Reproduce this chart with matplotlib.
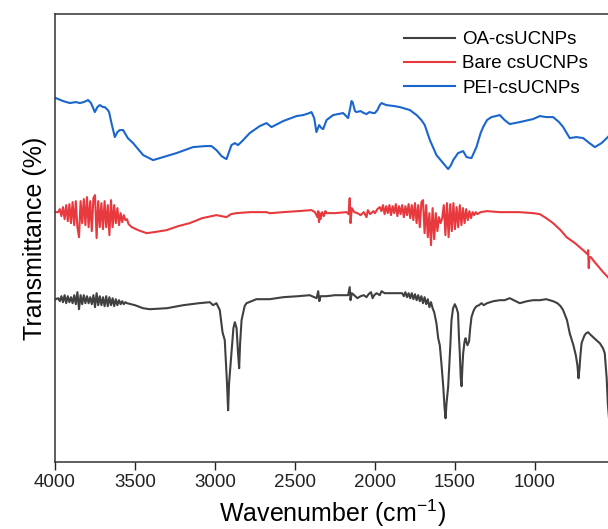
import numpy as np
import matplotlib
matplotlib.use("Agg")
import matplotlib.pyplot as plt

plt.rcParams["font.family"] = ["Liberation Sans", "DejaVu Sans"]
plt.rcParams["mathtext.default"] = "regular"

# ---- data (wavenumber, offset transmittance a.u.) ----
LABELS = ["OA-csUCNPs", "Bare csUCNPs", "PEI-csUCNPs"]
COLORS = ["#404040", "#e8393e", "#1a66cc"]

oa_wn = [3995, 3980, 3970, 3960, 3950, 3940, 3930, 3920, 3910, 3900, 3890,
         3880, 3870, 3860, 3850, 3840, 3830, 3820, 3810, 3800, 3790, 3780,
         3770, 3760, 3750, 3740, 3730, 3720, 3710, 3700, 3690, 3680, 3670,
         3660, 3650, 3640, 3630, 3620, 3610, 3600, 3590, 3580, 3570, 3560,
         3550, 3500, 3450, 3408, 3300, 3199, 3100, 3032, 3012, 2991, 2970,
         2953, 2939, 2925, 2918, 2912, 2897, 2885, 2876, 2865, 2856, 2849,
         2843, 2834, 2815, 2803, 2741, 2658, 2574, 2480, 2408, 2380, 2365,
         2355, 2348, 2340, 2320, 2303, 2250, 2168, 2158, 2153, 2145, 2130,
         2110, 2090, 2070, 2053, 2040, 2025, 2015, 2005, 1990, 1970, 1959,
         1940, 1900, 1845, 1830, 1820, 1810, 1800, 1790, 1780, 1770, 1760,
         1750, 1740, 1730, 1720, 1710, 1700, 1690, 1680, 1670, 1660, 1650,
         1640, 1630, 1616, 1605, 1595, 1585, 1574, 1565, 1559, 1553, 1543,
         1530, 1522, 1512, 1501, 1490, 1481, 1475, 1470, 1464, 1459, 1454,
         1449, 1440, 1434, 1428, 1422, 1417, 1412, 1405, 1397, 1385, 1376,
         1365, 1350, 1334, 1320, 1300, 1260, 1220, 1190, 1158, 1120, 1095,
         1050, 1012, 970, 930, 887, 860, 840, 824, 800, 783, 760, 745, 735,
         728, 722, 716, 709, 700, 690, 680, 668, 650, 630, 616, 595, 575,
         564, 552, 545, 535]
oa_t = [164, 165, 162, 167, 161, 168, 160, 167, 161, 166, 160,
        168, 159, 171, 154, 168, 159, 168, 160, 167, 160, 166,
        159, 168, 156, 170, 158, 167, 158, 166, 157, 167, 157,
        166, 158, 165, 157, 164, 158, 163, 159, 162, 159, 161,
        160, 158, 155, 154, 155, 158, 160, 161, 158, 160, 153,
        131, 123, 80, 53, 80, 110, 135, 141, 135, 110, 95,
        120, 143, 157, 160, 164, 164, 166, 167, 168, 166, 165,
        172, 162, 167, 167, 167, 168, 168, 176, 163, 170, 168,
        165, 167, 168, 166, 169, 171, 165, 168, 170, 168, 172,
        170, 170, 170, 170, 167, 171, 166, 170, 165, 170, 164,
        169, 163, 168, 162, 167, 160, 166, 159, 164, 156, 161,
        155, 151, 140, 125, 118, 100, 78, 55, 45, 60, 76,
        115, 143, 155, 159, 155, 150, 125, 110, 85, 77, 95,
        110, 122, 125, 121, 118, 120, 122, 135, 146, 152, 155,
        157, 158, 160, 158, 160, 162, 163, 163, 165, 162, 160,
        162, 163, 163, 164, 162, 160, 157, 153, 143, 130, 118, 108, 98,
        85, 95, 108, 120, 124, 128, 130, 131, 128, 125, 123, 120, 115,
        110, 85, 60, 40]

bare_wn = [3995, 3980, 3970, 3960, 3950, 3940, 3930, 3920, 3910, 3900, 3890,
           3880, 3870, 3860, 3850, 3840, 3830, 3820, 3810, 3800, 3790, 3780,
           3770, 3760, 3750, 3740, 3730, 3720, 3710, 3700, 3690, 3680, 3670,
           3660, 3650, 3640, 3630, 3620, 3610, 3600, 3590, 3580, 3570, 3560,
           3550, 3540, 3520, 3480, 3428, 3380, 3303, 3230, 3158, 3080, 2991,
           2960, 2928, 2900, 2866, 2780, 2678, 2660, 2647, 2574, 2480, 2397,
           2375, 2360, 2355, 2350, 2345, 2340, 2330, 2320, 2310, 2303, 2250,
           2178, 2165, 2158, 2153, 2145, 2130, 2110, 2090, 2070, 2053, 2045,
           2030, 2010, 2000, 1985, 1970, 1960, 1950, 1940, 1930, 1920, 1910,
           1900, 1890, 1880, 1870, 1860, 1850, 1840, 1830, 1820, 1810, 1800,
           1790, 1780, 1770, 1760, 1750, 1740, 1730, 1720, 1710, 1700, 1690,
           1680, 1670, 1660, 1650, 1640, 1630, 1620, 1610, 1600, 1590, 1580,
           1570, 1560, 1550, 1540, 1530, 1520, 1510, 1500, 1490, 1480, 1470,
           1460, 1450, 1440, 1430, 1420, 1410, 1400, 1390, 1380, 1370, 1360,
           1350, 1340, 1300, 1220, 1100, 1012, 970, 930, 887, 840, 803, 750,
           699, 672, 668, 664, 660, 650, 637, 600, 574, 545, 520]
bare_t = [251, 251, 254, 247, 256, 244, 258, 242, 259, 240, 261,
          238, 262, 236, 226, 262, 240, 264, 238, 266, 236, 262,
          232, 265, 268, 225, 262, 236, 260, 234, 262, 236, 258,
          228, 263, 236, 258, 240, 255, 238, 250, 241, 248, 243,
          244, 239, 236, 233, 230, 231, 233, 237, 240, 245, 248,
          247, 246, 249, 250, 251, 251, 250, 250, 251, 252, 253,
          251, 246, 252, 241, 250, 244, 251, 247, 252, 250, 250,
          251, 249, 265, 240, 255, 251, 250, 248, 251, 246, 253,
          249, 252, 250, 254, 256, 252, 258, 249, 257, 250, 258,
          248, 257, 250, 259, 247, 257, 249, 258, 246, 257, 248,
          259, 245, 258, 243, 260, 240, 258, 236, 261, 263, 230,
          258, 226, 250, 218, 255, 224, 250, 232, 246, 240, 245,
          258, 228, 260, 226, 259, 232, 260, 234, 256, 236, 258,
          238, 255, 240, 254, 243, 252, 245, 251, 248, 251, 249,
          250, 251, 252, 251, 251, 250, 249, 245, 240, 233, 226, 220,
          213, 209, 213, 195, 206, 206, 203, 196, 191, 186, 182]

pei_wn = [3995, 3950, 3907, 3870, 3845, 3820, 3793, 3775, 3751, 3735, 3720,
          3700, 3689, 3670, 3662, 3647, 3626, 3610, 3595, 3574, 3545, 3512,
          3449, 3387, 3324, 3241, 3137, 3060, 3022, 2991, 2959, 2940, 2928,
          2915, 2897, 2876, 2856, 2830, 2783, 2720, 2678, 2647, 2574, 2491,
          2449, 2410, 2397, 2380, 2366, 2349, 2335, 2324, 2303, 2262, 2199,
          2168, 2155, 2147, 2140, 2125, 2116, 2090, 2070, 2053, 2035, 2010,
          2001, 1985, 1970, 1959, 1930, 1880, 1845, 1782, 1740, 1710, 1689,
          1657, 1616, 1574, 1543, 1525, 1511, 1481, 1449, 1428, 1397, 1366,
          1340, 1324, 1300, 1272, 1245, 1220, 1190, 1158, 1095, 1012, 970,
          930, 887, 850, 824, 783, 741, 699, 660, 626, 584, 545, 520]
pei_t = [365, 362, 360, 361, 360, 361, 363, 360, 351, 356, 358,
         356, 356, 353, 351, 340, 326, 331, 333, 333, 325, 320,
         308, 303, 306, 310, 316, 317, 317, 313, 307, 305, 304,
         310, 318, 320, 318, 322, 330, 337, 340, 336, 342, 347,
         348, 350, 351, 345, 331, 338, 335, 334, 343, 348, 350,
         345, 355, 362, 361, 352, 351, 352, 350, 349, 351, 350,
         350, 353, 358, 360, 358, 357, 356, 353, 348, 343, 338,
         323, 308, 300, 294, 298, 303, 310, 312, 306, 305, 316,
         330, 336, 343, 346, 347, 348, 343, 339, 341, 344, 347,
         346, 346, 341, 336, 325, 326, 325, 320, 316, 320, 326, 330]

SERIES = [(oa_wn, oa_t), (bare_wn, bare_t), (pei_wn, pei_t)]

# ---- figure ----
W, H = 608, 529
fig = plt.figure(figsize=(W / 100, H / 100), dpi=100)
left, right, top, bottom = 55, 631, 14, 462.3
ax = fig.add_axes([left / W, 1 - bottom / H, (right - left) / W, (bottom - top) / H])

for (wn, t), lab, c in zip(SERIES, LABELS, COLORS):
    ax.plot(wn, t, color=c, lw=1.5, label=lab)

ax.set_xlim(4000, 400)
ax.set_ylim(1, 449)
ax.set_xticks([4000, 3500, 3000, 2500, 2000, 1500, 1000])
ax.set_yticks([])
ax.tick_params(axis="x", direction="out", length=5.5, width=1.0,
               labelsize=13.5, pad=3, colors="#222222")
for s in ax.spines.values():
    s.set_linewidth(1.1)
    s.set_color("#333333")

ax.set_xlabel("Wavenumber (cm$^{-1}$)", fontsize=18, labelpad=4.5)
ax.xaxis.label.set_x((333 - left) / (right - left))
ax.set_ylabel("Transmittance (%)", fontsize=18, labelpad=6)

ax.legend(loc="upper left", bbox_to_anchor=(404 / W, 1 - 31 / H),
          bbox_transform=fig.transFigure, frameon=False, fontsize=13.5,
          handlelength=2.7, handletextpad=0.4, labelspacing=0.38,
          borderpad=0, borderaxespad=0)

fig.savefig("out.png", dpi=100)
